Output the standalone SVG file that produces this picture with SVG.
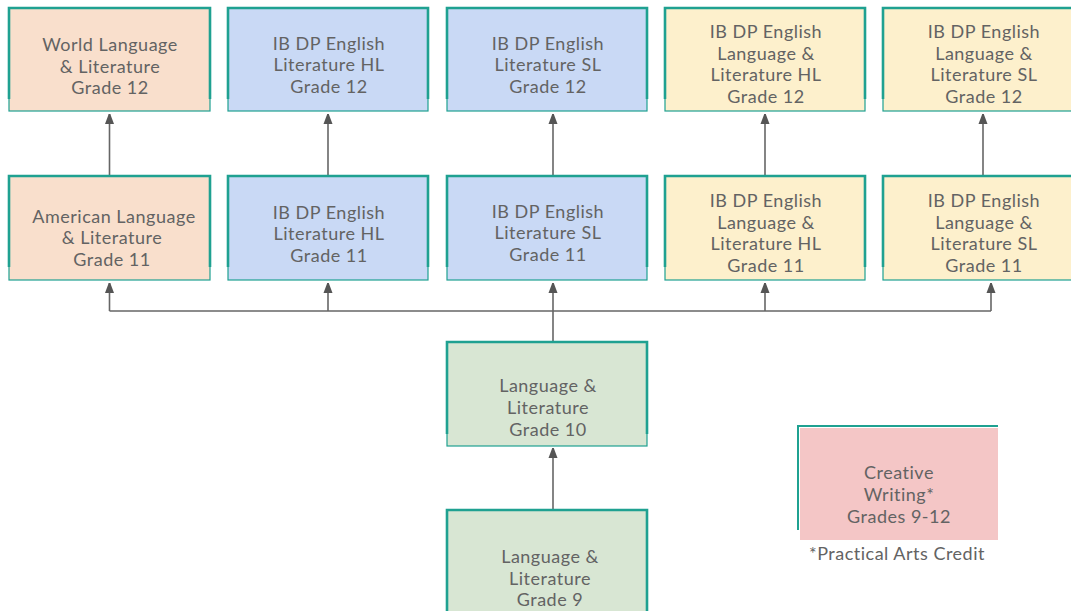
<svg xmlns="http://www.w3.org/2000/svg" width="1071" height="611" viewBox="0 0 1071 611">
<style>
.bg{stroke:#1fa191;stroke-width:1.2}
.edge{fill:none;stroke:#1fa191;stroke-width:2.6}
.salmon{fill:#f9dfcc}.blue{fill:#c9d9f5}.yellow{fill:#fdf0cc}.green{fill:#d8e6d3}.pink{fill:#f4c6c6}
text{font-family:Lato,"Open Sans","Liberation Sans",sans-serif;font-size:18px;letter-spacing:0.5px;fill:#636363;text-anchor:middle;dominant-baseline:central}
.c{fill:none;stroke:#666;stroke-width:1.6}
</style>
<defs>
<marker id="ah" viewBox="0 0 10 14" refX="10" refY="7" markerWidth="10" markerHeight="14" markerUnits="userSpaceOnUse" orient="auto">
<path d="M0,2.5 L12,7 L0,11.5 Z" fill="#555"/>
</marker>
</defs>
<rect width="1071" height="611" fill="#fff"/>
<g id="connectors">
<path class="c" d="M109.5,175 V114" marker-end="url(#ah)"/>
<path class="c" d="M328,175 V114" marker-end="url(#ah)"/>
<path class="c" d="M553,175 V114" marker-end="url(#ah)"/>
<path class="c" d="M765,175 V114" marker-end="url(#ah)"/>
<path class="c" d="M983,175 V114" marker-end="url(#ah)"/>
<path class="c" d="M109.5,311 H991"/>
<path class="c" d="M109.5,311 V283" marker-end="url(#ah)"/>
<path class="c" d="M328,311 V283" marker-end="url(#ah)"/>
<path class="c" d="M553,342 V283" marker-end="url(#ah)"/>
<path class="c" d="M765,311 V283" marker-end="url(#ah)"/>
<path class="c" d="M991,311 V283" marker-end="url(#ah)"/>
<path class="c" d="M553,510 V448" marker-end="url(#ah)"/>
</g>
<g id="n1"><rect class="bg salmon" x="9" y="8" width="201" height="103"/><path class="edge" d="M9,99 V8 H210 V99"/>
<text x="110" y="44">World Language</text><text x="110" y="66">&amp; Literature</text><text x="110" y="87">Grade 12</text></g>
<g id="n2"><rect class="bg blue" x="228" y="8" width="200" height="103"/><path class="edge" d="M228,99 V8 H428 V99"/>
<text x="329" y="43">IB DP English</text><text x="329" y="64">Literature HL</text><text x="329" y="86">Grade 12</text></g>
<g id="n3"><rect class="bg blue" x="447" y="8" width="200" height="103"/><path class="edge" d="M447,99 V8 H647 V99"/>
<text x="548" y="43">IB DP English</text><text x="548" y="64">Literature SL</text><text x="548" y="86">Grade 12</text></g>
<g id="n4"><rect class="bg yellow" x="665" y="8" width="200" height="103"/><path class="edge" d="M665,99 V8 H865 V99"/>
<text x="766" y="31">IB DP English</text><text x="766" y="53">Language &amp;</text><text x="766" y="74">Literature HL</text><text x="766" y="96">Grade 12</text></g>
<g id="n5"><rect class="bg yellow" x="883" y="8" width="200" height="103"/><path class="edge" d="M883,99 V8 H1083 V99"/>
<text x="984" y="31">IB DP English</text><text x="984" y="53">Language &amp;</text><text x="984" y="74">Literature SL</text><text x="984" y="96">Grade 12</text></g>
<g id="n6"><rect class="bg salmon" x="9" y="176" width="201" height="104"/><path class="edge" d="M9,267 V176 H210 V267"/>
<text x="114" y="216">American Language</text><text x="112" y="237">&amp; Literature</text><text x="112" y="259">Grade 11</text></g>
<g id="n7"><rect class="bg blue" x="228" y="176" width="200" height="104"/><path class="edge" d="M228,267 V176 H428 V267"/>
<text x="329" y="212">IB DP English</text><text x="329" y="233">Literature HL</text><text x="329" y="255">Grade 11</text></g>
<g id="n8"><rect class="bg blue" x="447" y="176" width="200" height="104"/><path class="edge" d="M447,267 V176 H647 V267"/>
<text x="548" y="211">IB DP English</text><text x="548" y="232">Literature SL</text><text x="548" y="254">Grade 11</text></g>
<g id="n9"><rect class="bg yellow" x="665" y="176" width="200" height="104"/><path class="edge" d="M665,267 V176 H865 V267"/>
<text x="766" y="200">IB DP English</text><text x="766" y="222">Language &amp;</text><text x="766" y="243">Literature HL</text><text x="766" y="265">Grade 11</text></g>
<g id="n10"><rect class="bg yellow" x="883" y="176" width="200" height="104"/><path class="edge" d="M883,267 V176 H1083 V267"/>
<text x="984" y="200">IB DP English</text><text x="984" y="222">Language &amp;</text><text x="984" y="243">Literature SL</text><text x="984" y="265">Grade 11</text></g>
<g id="n11"><rect class="bg green" x="447" y="342" width="200" height="104"/><path class="edge" d="M447,434 V342 H647 V434"/>
<text x="548" y="385">Language &amp;</text><text x="548" y="407">Literature</text><text x="548" y="429">Grade 10</text></g>
<g id="n12"><rect class="bg green" x="447" y="510" width="200" height="110"/><path class="edge" d="M447,620 V510 H647 V620"/>
<text x="550" y="556">Language &amp;</text><text x="550" y="578">Literature</text><text x="550" y="599">Grade 9</text></g>
<g id="n13"><path fill="none" stroke="#1fa191" stroke-width="2" d="M798,530 V426 H998"/><rect class="pink" x="800" y="428" width="198" height="112"/>
<text x="899" y="472">Creative</text><text x="899" y="494">Writing*</text><text x="899" y="516">Grades 9-12</text></g>
<text x="897" y="553">*Practical Arts Credit</text>
</svg>
